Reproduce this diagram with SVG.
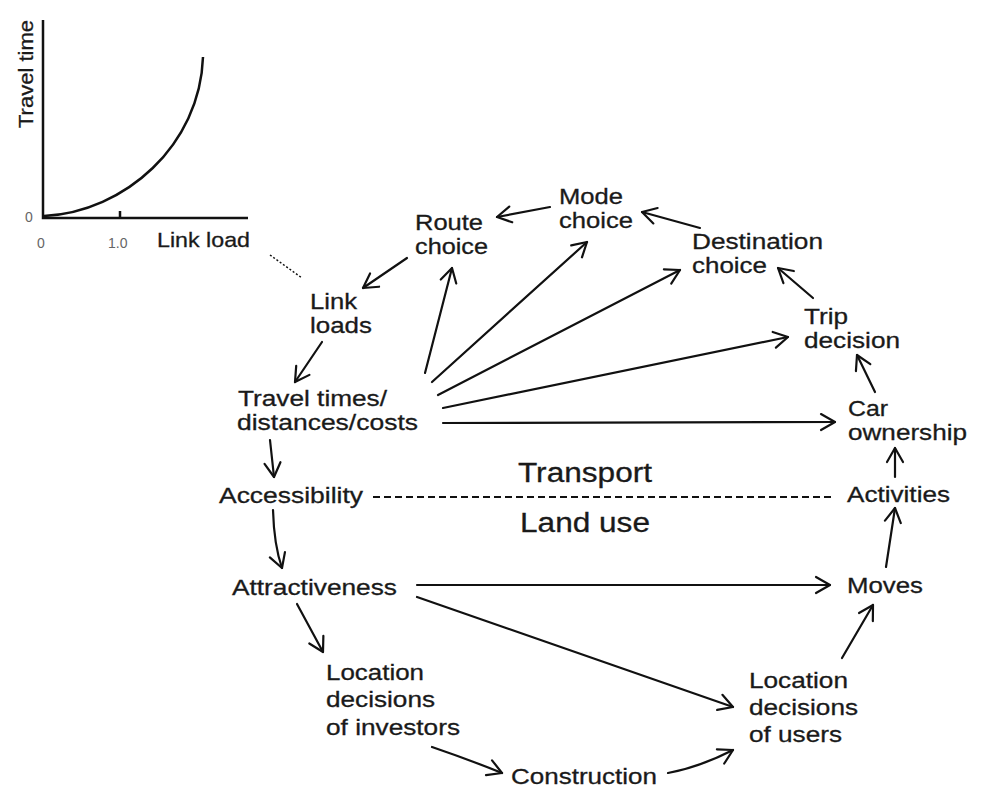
<svg xmlns="http://www.w3.org/2000/svg" width="990" height="800" viewBox="0 0 990 800">
<defs>
<style>
text{font-family:"Liberation Sans",Arial,sans-serif;fill:#1a1a1a;font-size:22px;stroke:#1a1a1a;stroke-width:0.3}
.big{font-size:27px}
.ax{font-size:14px;fill:#666;stroke:none}
.lbl{font-size:21px}
.c{stroke:#111;stroke-width:2.2;fill:none;stroke-linecap:round}
.axis{stroke:#111;stroke-width:2.5;fill:none}
</style>
<marker id="a" viewBox="-16 -10 18 20" refX="0" refY="0" markerWidth="18" markerHeight="20" markerUnits="userSpaceOnUse" orient="auto">
<path d="M-14,-8 L0,0 L-14,8" fill="none" stroke="#111" stroke-width="2.2" stroke-linecap="round" stroke-linejoin="round"/>
</marker>
</defs>
<rect width="990" height="800" fill="#fff"/>

<g id="graph">
<path class="axis" d="M43,20 V218 H248 M120,211 V218"/>
<path class="axis" d="M44,216 C125,212 200,145 203,57"/>
<text class="lbl" transform="translate(33,128) rotate(-90)" textLength="108" lengthAdjust="spacingAndGlyphs">Travel time</text>
<text class="ax" x="25" y="222">0</text>
<text class="ax" x="37" y="248">0</text>
<text class="ax" x="108" y="248">1.0</text>
<text class="lbl" x="157" y="247" textLength="93" lengthAdjust="spacingAndGlyphs">Link load</text>
</g>

<g id="mode"><text x="559" y="204" textLength="64" lengthAdjust="spacingAndGlyphs">Mode</text><text x="559" y="228" textLength="74" lengthAdjust="spacingAndGlyphs">choice</text></g>
<g id="route"><text x="415" y="230" textLength="68" lengthAdjust="spacingAndGlyphs">Route</text><text x="415" y="254" textLength="73" lengthAdjust="spacingAndGlyphs">choice</text></g>
<g id="linkloads"><text x="310" y="309" textLength="47" lengthAdjust="spacingAndGlyphs">Link</text><text x="310" y="333" textLength="62" lengthAdjust="spacingAndGlyphs">loads</text></g>
<g id="traveltimes"><text x="238" y="406" textLength="149" lengthAdjust="spacingAndGlyphs">Travel times/</text><text x="237" y="430" textLength="181" lengthAdjust="spacingAndGlyphs">distances/costs</text></g>
<g id="destination"><text x="692" y="249" textLength="131" lengthAdjust="spacingAndGlyphs">Destination</text><text x="692" y="273" textLength="75" lengthAdjust="spacingAndGlyphs">choice</text></g>
<g id="trip"><text x="804" y="324" textLength="44" lengthAdjust="spacingAndGlyphs">Trip</text><text x="804" y="348" textLength="96" lengthAdjust="spacingAndGlyphs">decision</text></g>
<g id="car"><text x="848" y="416" textLength="40" lengthAdjust="spacingAndGlyphs">Car</text><text x="848" y="440" textLength="119" lengthAdjust="spacingAndGlyphs">ownership</text></g>
<g id="activities"><text x="847" y="502" textLength="103" lengthAdjust="spacingAndGlyphs">Activities</text></g>
<g id="moves"><text x="847" y="593" textLength="76" lengthAdjust="spacingAndGlyphs">Moves</text></g>
<g id="locusers"><text x="749" y="688" textLength="99" lengthAdjust="spacingAndGlyphs">Location</text><text x="749" y="715" textLength="109" lengthAdjust="spacingAndGlyphs">decisions</text><text x="749" y="742" textLength="93" lengthAdjust="spacingAndGlyphs">of users</text></g>
<g id="accessibility"><text x="219" y="503" textLength="144" lengthAdjust="spacingAndGlyphs">Accessibility</text></g>
<g id="attractiveness"><text x="232" y="595" textLength="165" lengthAdjust="spacingAndGlyphs">Attractiveness</text></g>
<g id="locinvestors"><text x="326" y="680" textLength="98" lengthAdjust="spacingAndGlyphs">Location</text><text x="326" y="707" textLength="109" lengthAdjust="spacingAndGlyphs">decisions</text><text x="326" y="735" textLength="134" lengthAdjust="spacingAndGlyphs">of investors</text></g>
<g id="construction"><text x="511" y="784" textLength="146" lengthAdjust="spacingAndGlyphs">Construction</text></g>
<g id="divider">
<text class="big" x="518" y="482" textLength="134" lengthAdjust="spacingAndGlyphs">Transport</text>
<text class="big" x="520" y="532" textLength="130" lengthAdjust="spacingAndGlyphs">Land use</text>
<line x1="373" y1="497" x2="833" y2="497" stroke="#111" stroke-width="1.8" stroke-dasharray="7,4"/>
</g>

<g id="connectors">
<line x1="270" y1="255" x2="302" y2="278" stroke="#111" stroke-width="1.5" stroke-dasharray="2,2"/>
<path class="c" marker-end="url(#a)" d="M550,207 L497,217"/>
<path class="c" marker-end="url(#a)" d="M700,228 L642,212"/>
<path class="c" marker-end="url(#a)" d="M813,298 L778,268"/>
<path class="c" marker-end="url(#a)" d="M875,392 L857,355"/>
<path class="c" marker-end="url(#a)" d="M895,477 L895,448"/>
<path class="c" marker-end="url(#a)" d="M886,567 L895,508"/>
<path class="c" marker-end="url(#a)" d="M842,658 L873,605"/>
<path class="c" marker-end="url(#a)" d="M668,773 Q700,767 733,750"/>
<path class="c" marker-end="url(#a)" d="M432,747 Q470,760 502,773"/>
<path class="c" marker-end="url(#a)" d="M297,604 L323,652"/>
<path class="c" marker-end="url(#a)" d="M273,510 Q274,545 282,568"/>
<path class="c" marker-end="url(#a)" d="M270,440 L274,477"/>
<path class="c" marker-end="url(#a)" d="M322,342 L295,382"/>
<path class="c" marker-end="url(#a)" d="M407,258 L363,288"/>
<path class="c" marker-end="url(#a)" d="M425,373 L452,268"/>
<path class="c" marker-end="url(#a)" d="M432,382 L587,242"/>
<path class="c" marker-end="url(#a)" d="M438,395 L680,270"/>
<path class="c" marker-end="url(#a)" d="M443,408 L788,337"/>
<path class="c" marker-end="url(#a)" d="M443,423 L835,422"/>
<path class="c" marker-end="url(#a)" d="M417,585 L830,585"/>
<path class="c" marker-end="url(#a)" d="M417,597 L733,707"/>
</g>
</svg>
